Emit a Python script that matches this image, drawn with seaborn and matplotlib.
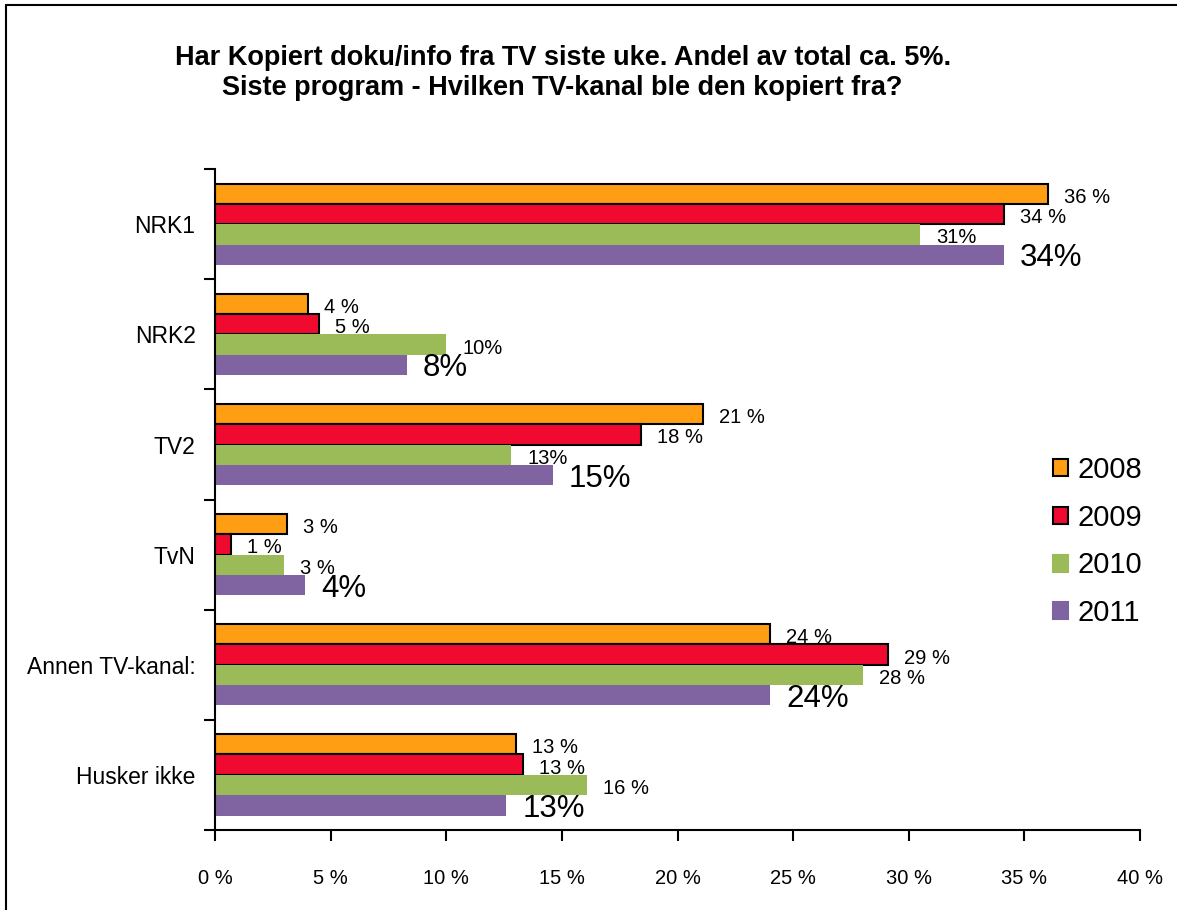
import numpy as np
import pandas as pd
import matplotlib
matplotlib.use("Agg")
import matplotlib.pyplot as plt
import seaborn as sns
from matplotlib.patches import Patch
from matplotlib.lines import Line2D

# data (percent)
channels = ["NRK1", "NRK2", "TV2", "TvN", "Annen TV-kanal:", "Husker ikke"]
years = ["2008", "2009", "2010", "2011"]
v2008 = [36.0, 4.0, 21.1, 3.1, 24.0, 13.0]
v2009 = [34.1, 4.5, 18.4, 0.7, 29.1, 13.3]
v2010 = [30.5, 10.0, 12.8, 3.0, 28.0, 16.1]
v2011 = [34.1, 8.3, 14.6, 3.9, 24.0, 12.6]
lab2008 = ["36 %", "4 %", "21 %", "3 %", "24 %", "13 %"]
lab2009 = ["34 %", "5 %", "18 %", "1 %", "29 %", "13 %"]
lab2010 = ["31%", "10%", "13%", "3 %", "28 %", "16 %"]
lab2011 = ["34%", "8%", "15%", "4%", "24%", "13%"]
xticks = [0, 5, 10, 15, 20, 25, 30, 35, 40]

colors = ["#FF9E12", "#F00A30", "#9BBB59", "#8064A2"]
edges = ["black", "black", "none", "none"]

df = pd.DataFrame({
    "channel": channels * 4,
    "year": sum([[y] * len(channels) for y in years], []),
    "value": v2008 + v2009 + v2010 + v2011,
})

sns.set_style("white")
plt.rcParams["font.family"] = ["Liberation Sans", "DejaVu Sans"]
plt.rcParams["text.color"] = "black"
plt.rcParams["xtick.color"] = "black"
plt.rcParams["ytick.color"] = "black"

fig = plt.figure(figsize=(11.77, 9.10), dpi=100)
ax = fig.add_axes([0.1827, 0.0880, 0.7859, 0.7260])

sns.barplot(data=df, y="channel", x="value", hue="year", order=channels,
            hue_order=years, palette=colors, orient="h", width=0.74,
            saturation=1, legend=False, ax=ax)

labels = [lab2008, lab2009, lab2010, lab2011]
for i, cont in enumerate(ax.containers):
    for bar in cont:
        bar.set_edgecolor(edges[i])
        bar.set_linewidth(1.5 if edges[i] != "none" else 0)
    big = i == 3
    texts = ax.bar_label(cont, labels=labels[i], padding=11.5,
                         fontsize=22.5 if big else 14.5, color="black")
    # Excel puts the labels a touch below the bar middle
    for t in texts:
        ox, oy = t.xyann
        t.xyann = (ox, oy - 2.5)

ax.set_xlim(0, 40)
ax.set_ylim(5.5, -0.5)
ax.set_xticks(xticks)
ax.set_xticklabels([f"{t} %" for t in xticks], fontsize=14.5)
ax.tick_params(axis="x", length=8, width=1.5, direction="out", pad=20, bottom=True)
ax.set_yticks(range(len(channels)))
ax.set_yticklabels(channels, fontsize=16.5)
ax.tick_params(axis="y", length=0, pad=14)
ax.set_yticks(np.arange(-0.5, len(channels), 1.0), minor=True)
ax.tick_params(axis="y", which="minor", length=8, width=1.5, direction="out", left=True)
ax.set_xlabel("")
ax.set_ylabel("")
for s in ["top", "right"]:
    ax.spines[s].set_visible(False)
for s in ["left", "bottom"]:
    ax.spines[s].set_color("black")
    ax.spines[s].set_linewidth(1.5)

handles = [Patch(facecolor=c, edgecolor=e if e != "none" else c, linewidth=1.5)
           for c, e in zip(colors, edges)]
fig.legend(handles, years, loc="center left", bbox_to_anchor=(0.872, 0.405),
           frameon=False, fontsize=21, handlelength=0.52, handleheight=0.52,
           handletextpad=0.35, labelspacing=0.68)

fig.text(0.478, 0.92,
         "Har Kopiert doku/info fra TV siste uke. Andel av total ca. 5%.\n"
         "Siste program - Hvilken TV-kanal ble den kopiert fra?",
         ha="center", va="center", fontsize=19.5, fontweight="bold",
         linespacing=1.18)

# outer chart frame
fig.add_artist(Line2D([0.005, 0.005], [0.0, 0.994], color="black", lw=1.5,
                      transform=fig.transFigure))
fig.add_artist(Line2D([0.005, 1.0], [0.994, 0.994], color="black", lw=1.5,
                      transform=fig.transFigure))

fig.savefig("out.png", dpi=100)
